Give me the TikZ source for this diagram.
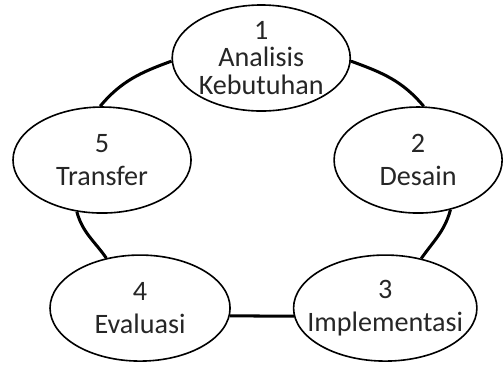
\documentclass[tikz,border=0pt]{standalone}
\usepackage{fontspec}
\setmainfont{Carlito}
\usetikzlibrary{shapes.geometric}

\begin{document}
\begin{tikzpicture}[
    phase/.style={draw, ellipse, line width=1.6pt, fill=white, text=black!85,
        align=center, inner xsep=-13pt, inner ysep=-3pt,
        minimum width=6.3cm, minimum height=3.71cm,
        font=\fontsize{28}{33}\selectfont},
    link/.style={line width=3pt}
]
\useasboundingbox (0,0) rectangle (17.6,12.74);

% Phases
\node[phase, minimum width=6.23cm, font=\fontsize{28}{27}\selectfont] (analisis) at (9.14,10.71) {1\\Analisis\\Kebutuhan};
\node[phase, minimum width=5.88cm] (desain) at (14.63,7.14) {2\\Desain};
\node[phase] (implementasi) at (13.48,1.96) {3\\Implementasi};
\node[phase] (evaluasi) at (4.90,1.96) {4\\Evaluasi};
\node[phase, minimum width=6.23cm] (transfer) at (3.57,7.14) {5\\Transfer};

% Connections
\draw[link] (analisis.358) to[out=-20, in=130] (desain.84);
\draw[link] (desain.303) to[out=-105, in=55] (implementasi.54);
\draw[link] (implementasi.185) -- (evaluasi.355);
\draw[link] (evaluasi.124) to[out=125, in=-75] (transfer.244);
\draw[link] (transfer.92) to[out=50, in=-160] (analisis.182);

\end{tikzpicture}
\end{document}
